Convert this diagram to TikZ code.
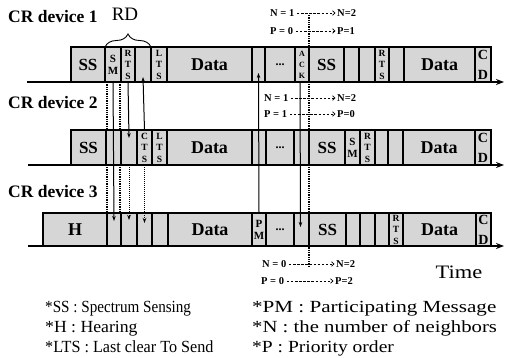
\documentclass[tikz,border=0pt]{standalone}
\usepackage{graphicx}
\usepackage{fontspec}
\setmainfont{Liberation Serif}
\usetikzlibrary{calc,arrows.meta,decorations.pathreplacing}
\tikzset{
  slot/.style={draw=black, line width=1.1pt, fill=black!16, inner sep=0pt, outer sep=0pt, align=center, font=\bfseries},
  axisline/.style={line width=2pt, -{Stealth[length=8pt,width=6pt]}},
  conn/.style={line width=1pt, -{Stealth[length=5pt,width=3.5pt]}},
  dconn/.style={line width=1pt, densely dotted, -{Stealth[length=5pt,width=3.5pt]}},
  guide/.style={line width=1.3pt, densely dotted},
  np/.style={font=\bfseries\fontsize{10.5}{11}\selectfont, inner sep=0pt, anchor=west},
  dasharr/.style={line width=0.7pt, dash pattern=on 2.5pt off 1.6pt, shorten <=2.5pt, shorten >=1.5pt, -{Straight Barb[length=2.5pt,width=4.5pt]}},
  dev/.style={font=\bfseries\fontsize{17.5}{18}\selectfont, inner sep=0pt, anchor=west},
  legend/.style={font=\fontsize{17}{18}\selectfont, inner sep=0pt, anchor=base west},
  big/.style={font=\bfseries\fontsize{17}{18}\selectfont},
  data/.style={font=\bfseries\fontsize{18}{18}\selectfont},
  dots/.style={font=\bfseries\fontsize{12}{12}\selectfont},
  two/.style={font=\bfseries\fontsize{11}{12}\selectfont},
  three/.style={font=\bfseries\fontsize{9.5}{11.5}\selectfont},
  ack/.style={font=\bfseries\fontsize{8}{11}\selectfont},
  cd/.style={font=\bfseries\fontsize{14}{20}\selectfont},
}
\newcommand\slotn[7]{\node[slot,#6, minimum width={(#3-#2)*1pt}, minimum height={(#5-#4)*1pt}] (#1) at ({(#2+#3)/2},{(#4+#5)/2}) {#7};}
\begin{document}
\begin{tikzpicture}[x=1pt,y=-1pt]
\useasboundingbox (0,0) rectangle (505,358);

% guide lines (behind boxes)
\coordinate (gtop) at (309,15);
\coordinate (gbot) at (309,266);
\draw[guide] (gtop) -- (gbot);
\coordinate (ga1) at (107,82); \coordinate (ga2) at (107,213);
\coordinate (gb1) at (120,82); \coordinate (gb2) at (120,213);
\draw[guide] (ga1) -- (ga2);
\draw[guide] (gb1) -- (gb2);

% device labels
\node[dev] (dev1) at (8,17) {CR device 1};
\node[dev] (dev2) at (8,103) {CR device 2};
\node[dev] (dev3) at (8,192) {CR device 3};

% axes
\coordinate (a1s) at (27,82);  \coordinate (a1e) at (504,82);
\coordinate (a2s) at (28,165); \coordinate (a2e) at (504,165);
\coordinate (a3s) at (28,246); \coordinate (a3e) at (504,246);

% row 1
\slotn{d1ss}{71}{105}{47}{82}{big}{SS}
\slotn{d1sm}{105}{121}{47}{82}{two}{S\\M}
\slotn{d1rts}{121}{135}{47}{82}{three}{R\\T\\S}
\slotn{d1b1}{135}{151}{47}{82}{}{}
\slotn{d1lts}{151}{167}{47}{82}{three}{L\\T\\S}
\slotn{d1data}{167}{252}{47}{82}{data}{Data}
\slotn{d1b2}{252}{265}{47}{82}{}{}
\slotn{d1dots}{265}{295}{47}{82}{dots}{...}
\slotn{d1ack}{295}{309}{47}{82}{ack}{A\\C\\K}
\slotn{d1ss2}{309}{344}{47}{82}{big}{SS}
\slotn{d1b3}{344}{359}{47}{82}{}{}
\slotn{d1b4}{359}{375}{47}{82}{}{}
\slotn{d1rts2}{375}{389}{47}{82}{three}{R\\T\\S}
\slotn{d1b5}{389}{404}{47}{82}{}{}
\slotn{d1data2}{404}{475}{47}{82}{data}{Data}
\slotn{d1cd}{475}{491}{47}{82}{cd}{C\\D}

% row 2
\slotn{d2ss}{71}{106}{130}{165}{big}{SS}
\slotn{d2b1}{106}{121}{130}{165}{}{}
\slotn{d2b2}{121}{137}{130}{165}{}{}
\slotn{d2cts}{137}{152}{130}{165}{three}{C\\T\\S}
\slotn{d2lts}{152}{167}{130}{165}{three}{L\\T\\S}
\slotn{d2data}{167}{252}{130}{165}{data}{Data}
\slotn{d2b3}{252}{266}{130}{165}{}{}
\slotn{d2dots}{266}{294}{130}{165}{dots}{...}
\slotn{d2b4}{294}{309}{130}{165}{}{}
\slotn{d2ss2}{309}{345}{130}{165}{big}{SS}
\slotn{d2sm}{345}{360}{130}{165}{two}{S\\M}
\slotn{d2rts}{360}{375}{130}{165}{three}{R\\T\\S}
\slotn{d2b5}{375}{388}{130}{165}{}{}
\slotn{d2b6}{388}{403}{130}{165}{}{}
\slotn{d2data2}{403}{475}{130}{165}{data}{Data}
\slotn{d2cd}{475}{491}{130}{165}{cd}{C\\D}

% row 3
\slotn{d3h}{43}{107}{213}{246}{data}{H}
\slotn{d3b1}{107}{121}{213}{246}{}{}
\slotn{d3b2}{121}{137}{213}{246}{}{}
\slotn{d3b3}{137}{152}{213}{246}{}{}
\slotn{d3b4}{152}{168}{213}{246}{}{}
\slotn{d3data}{168}{252}{213}{246}{data}{Data}
\slotn{d3pm}{252}{266}{213}{246}{two}{P\\M}
\slotn{d3dots}{266}{294}{213}{246}{dots}{...}
\slotn{d3b5}{294}{309}{213}{246}{}{}
\slotn{d3ss}{309}{346}{213}{246}{big}{SS}
\slotn{d3b6}{346}{360}{213}{246}{}{}
\slotn{d3b7}{360}{375}{213}{246}{}{}
\slotn{d3b8}{375}{389}{213}{246}{}{}
\slotn{d3rts}{389}{403}{213}{246}{three}{R\\T\\S}
\slotn{d3data2}{403}{476}{213}{246}{data}{Data}
\slotn{d3cd}{476}{491}{213}{246}{cd}{C\\D}

\draw[axisline] (a1s) -- (a1e);
\draw[axisline] (a2s) -- (a2e);
\draw[axisline] (a3s) -- (a3e);

% brace RD
\draw[decorate, decoration={brace, amplitude=13pt}, line width=0.9pt] (d1sm.north west) -- (d1b1.north east);
\node[font=\fontsize{19}{19}\selectfont, inner sep=0pt] (rd) at (125,14) {RD};

% connectors
\draw[conn] (d1sm.south) -- ($(d3b1.north)+(0,8)$);
\draw[conn] (d1rts.south) -- ($(d2b2.north)+(0,8)$);
\draw[dconn] (d2b2.south) -- ($(d3b2.north)+(0,7)$);
\draw[conn] (d2cts.north) -- ($(d1b1.south)+(0,-5)$);
\draw[dconn] (d2cts.south) -- ($(d3b3.north)+(0,10)$);
\draw[conn] (d3pm.north) -- ($(d1b2.south)+(0,-9)$);
\draw[conn] ($(d1ack.south)+(-2,0)$) -- ($(d3b5.north)+(-1,14)$);

% N / P annotations
\node[np] (tn1) at (270,13) {N = 1};
\node[np] (tn2) at (337,13) {N=2};
\node[np] (tp1) at (270,31) {P = 0};
\node[np] (tp2) at (337,31) {P=1};
\draw[dasharr] (tn1) -- (tn2);
\draw[dasharr] (tp1) -- (tp2);

\node[np] (mn1) at (264,98) {N = 1};
\node[np] (mn2) at (337,98) {N=2};
\node[np] (mp1) at (264,114) {P = 1};
\node[np] (mp2) at (337,114) {P=0};
\draw[dasharr] (mn1) -- (mn2);
\draw[dasharr] (mp1) -- (mp2);

\node[np] (bn1) at (262,264) {N = 0};
\node[np] (bn2) at (336,264) {N=2};
\node[np] (bp1) at (261,281) {P = 0};
\node[np] (bp2) at (335,281) {P=2};
\draw[dasharr] (bn1) -- (bn2);
\draw[dasharr] (bp1) -- (bp2);

\node[font=\fontsize{19}{19}\selectfont, inner sep=0pt] (time) at (459,272) {\scalebox{1.18}[1]{Time}};

% legend
\node[legend] (l1) at (45,312) {\scalebox{0.89}[1]{*SS : Spectrum Sensing}};
\node[legend] (l2) at (45,332) {\scalebox{1.04}[1]{*H : Hearing}};
\node[legend] (l3) at (45,352) {\scalebox{0.95}[1]{*LTS : Last clear To Send}};
\node[legend] (r1) at (252,312) {\scalebox{1.24}[1]{*PM : Participating Message}};
\node[legend] (r2) at (252,332) {\scalebox{1.22}[1]{*N : the number of neighbors}};
\node[legend] (r3) at (252,352) {\scalebox{1.15}[1]{*P : Priority order}};
\end{tikzpicture}
\end{document}
